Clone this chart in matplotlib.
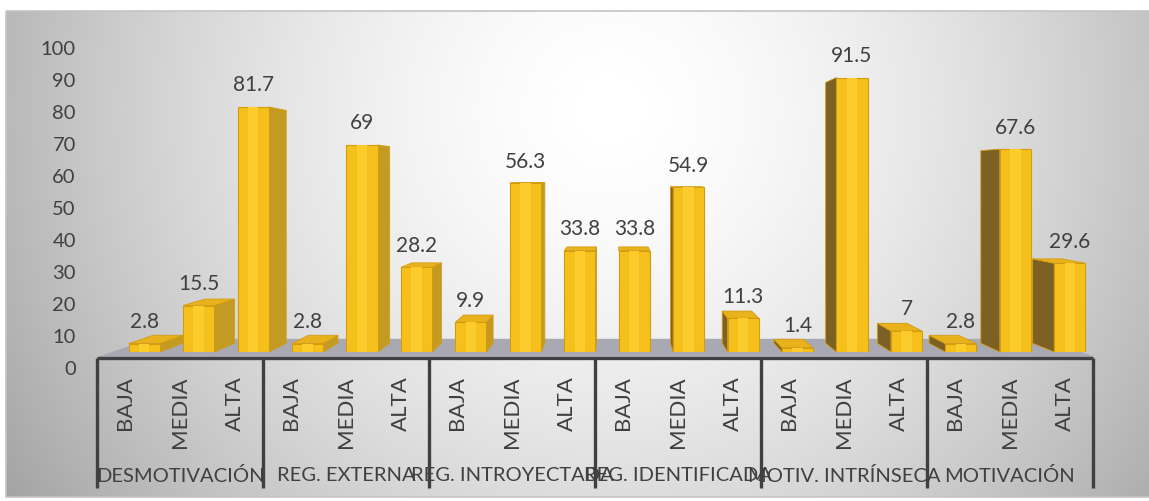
"""
plot.py
Bar chart of motivation levels (BAJA / MEDIA / ALTA) per motivation scale,
drawn with a simple perspective so the columns look like 3D blocks.

Run with: python3 plot.py
"""

import numpy as np
import matplotlib.pyplot as plt
from matplotlib.patches import Polygon, Rectangle

# --- Data ---
groups = ["DESMOTIVACIÓN", "REG. EXTERNA", "REG. INTROYECTADA",
          "REG. IDENTIFICADA", "MOTIV. INTRÍNSECA", "MOTIVACIÓN"]
levels = ["BAJA", "MEDIA", "ALTA"]

desmotivacion = [2.8, 15.5, 81.7]
reg_externa = [2.8, 69, 28.2]
reg_introyectada = [9.9, 56.3, 33.8]
reg_identificada = [33.8, 54.9, 11.3]
motiv_intrinseca = [1.4, 91.5, 7]
motivacion = [2.8, 67.6, 29.6]

y_ticks = [0, 10, 20, 30, 40, 50, 60, 70, 80, 90, 100]

# --- Styling ---
W, H = 1149, 502
TEXT = "#404040"
FONT = "Lato"
FRONT = "#F6C01C"
FRONT_HI = "#FCCC2C"
EDGE = "#D39C10"
SIDE_RIGHT = "#C49B22"
SIDE_LEFT = "#7C6024"
TOP = "#E9B21C"
FLOOR = "#A9A9B3"

BAR_W = 0.57          # front face width, in category slots
DEPTH = 0.05          # bar depth toward the vanishing point
FLOOR_DEPTH = 0.10
VP = (8.74, 58.3)     # vanishing point in bar-axes data units


def back(x, y, t):
    return x + t * (VP[0] - x), y + t * (VP[1] - y)


def px_axes(fig, left, top, right, bottom):
    # axes placed by pixel box (y measured from the top of the figure)
    return fig.add_axes([left / W, (H - bottom) / H,
                         (right - left) / W, (bottom - top) / H])


values = desmotivacion + reg_externa + reg_introyectada + reg_identificada \
    + motiv_intrinseca + motivacion
slot_labels = levels * len(groups)

fig = plt.figure(figsize=(W / 100, H / 100), dpi=100)

# --- Background: soft radial grey gradient inside the chart area ---
bg = fig.add_axes([0, 0, 1, 1])
bg.set_xlim(0, W)
bg.set_ylim(H, 0)
bg.axis("off")
gx, gy = np.meshgrid(np.linspace(6, W, 400), np.linspace(12, 498, 200))
r = np.sqrt(((gx - 610) / 640) ** 2 + ((gy - 110) / 640) ** 2)
shade = 1 - 0.30 * np.clip(r, 0, 1.2) ** 1.6
bg.imshow(shade, cmap="gray", vmin=0, vmax=1, extent=(6, W, 498, 12),
          aspect="auto", interpolation="bicubic")
bg.add_patch(Rectangle((6, 12), W, 486, fill=False, ec="#C4C4C4", lw=1.2))

# --- Value axis (tick labels only) ---
yax = px_axes(fig, 80, 48, 90, 368)
yax.set_ylim(0, 100)
yax.set_yticks(y_ticks)
yax.set_yticklabels([str(t) for t in y_ticks], fontsize=14.5, color=TEXT,
                    family=FONT)
yax.tick_params(axis="y", length=0, pad=3)
yax.set_xticks([])
yax.patch.set_visible(False)
for s in yax.spines.values():
    s.set_visible(False)

# --- Bars ---
ax = px_axes(fig, 117, 53, 1097, 353)
ax.set_xlim(-0.5, 17.5)
ax.set_ylim(0, 100)
ax.axis("off")

# floor slab under the columns
fx0, fx1, fy = -0.85, 17.45, -1.6
floor = [(fx0, fy), (fx1, fy), back(fx1, fy, FLOOR_DEPTH), back(fx0, fy, FLOOR_DEPTH)]
ax.add_patch(Polygon(floor, closed=True, fc=FLOOR, ec="none", zorder=1,
                     clip_on=False))

# paint from the outside in so nearer faces cover the hidden sides
order = sorted(range(len(values)), key=lambda i: -abs(i - VP[0]))
z = 2
for i in order:
    v = values[i]
    x0, x1 = i - BAR_W / 2, i + BAR_W / 2
    if x1 < VP[0]:
        side = [(x1, 0), (x1, v), back(x1, v, DEPTH), back(x1, 0, DEPTH)]
        ax.add_patch(Polygon(side, closed=True, fc=SIDE_RIGHT, ec=EDGE,
                             lw=0.6, zorder=z, clip_on=False))
    elif x0 > VP[0]:
        side = [(x0, 0), (x0, v), back(x0, v, DEPTH), back(x0, 0, DEPTH)]
        ax.add_patch(Polygon(side, closed=True, fc=SIDE_LEFT, ec=EDGE,
                             lw=0.6, zorder=z, clip_on=False))
    if v < VP[1]:
        top = [(x0, v), (x1, v), back(x1, v, DEPTH), back(x0, v, DEPTH)]
        ax.add_patch(Polygon(top, closed=True, fc=TOP, ec=EDGE, lw=0.6,
                             zorder=z, clip_on=False))
    ax.bar(i, v, width=BAR_W, color=FRONT, edgecolor=EDGE, linewidth=0.8,
           zorder=z + 0.1)
    ax.bar(i, v, width=BAR_W * 0.34, color=FRONT_HI, linewidth=0,
           zorder=z + 0.2)
    z += 1

for i, v in enumerate(values):
    ax.annotate(f"{v:g}", (i, v), xytext=(0, 9), textcoords="offset points",
                ha="center", va="bottom", fontsize=15, color=TEXT,
                family=FONT, zorder=50)

# --- Category axis: level labels, group labels and separators ---
cat = px_axes(fig, 97, 359, 1093, 489)
cat.set_xlim(-0.5, 17.5)
cat.set_ylim(1, 0)
cat.axis("off")
cat.plot([-0.5, 17.5], [0, 0], color="#404040", lw=2.4, clip_on=False,
         solid_capstyle="butt")
for g in range(len(groups) + 1):
    cat.plot([g * 3 - 0.5] * 2, [0, 1], color="#404040", lw=2.4,
             clip_on=False, solid_capstyle="butt")
# rotated labels hang from their last letter just under the axis line
for i, lab in enumerate(slot_labels):
    cat.text(i, 0.13, lab, rotation=90, rotation_mode="anchor", ha="right",
             va="center", fontsize=16, color=TEXT, family=FONT)
for g, name in enumerate(groups):
    cat.text(g * 3 + 1, 0.90, name, ha="center", va="center", fontsize=14.5,
             color=TEXT, family=FONT)

fig.savefig("out.png", dpi=100)
